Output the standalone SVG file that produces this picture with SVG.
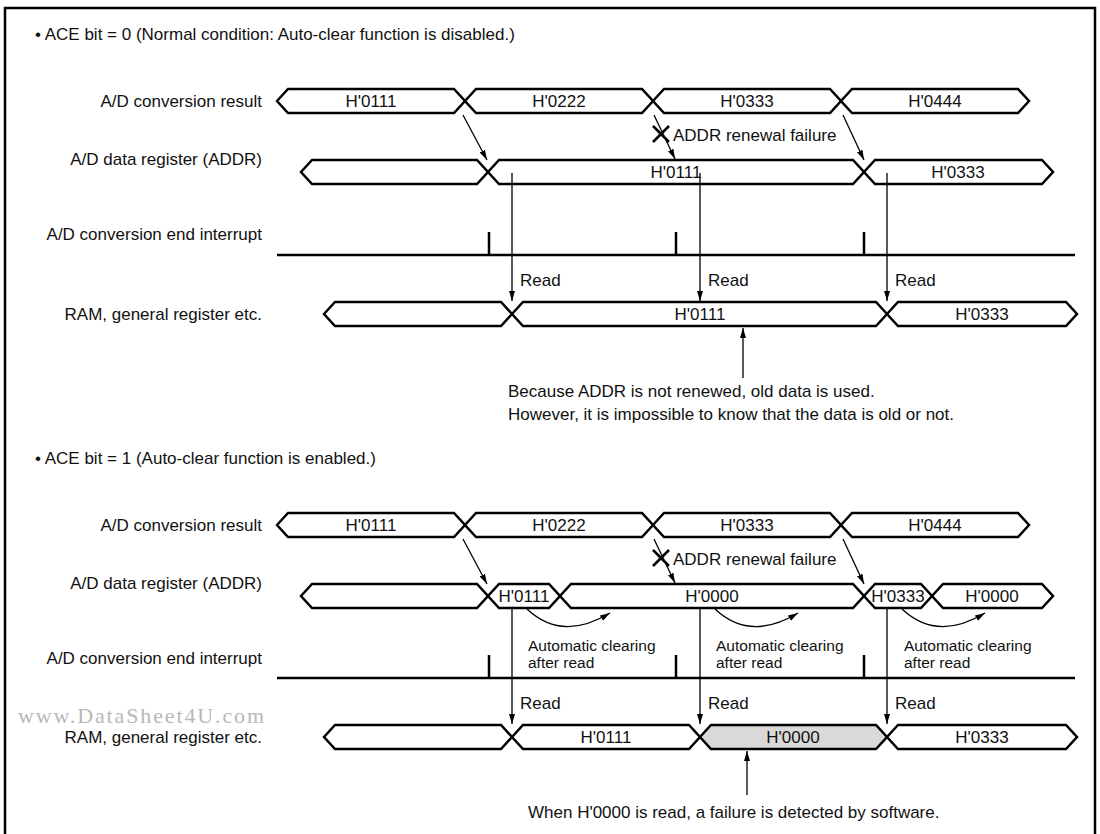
<svg xmlns="http://www.w3.org/2000/svg" width="1100" height="834" viewBox="0 0 1100 834">
<defs>
<marker id="ah" markerUnits="userSpaceOnUse" markerWidth="12" markerHeight="8" refX="10" refY="4" orient="auto">
<path d="M0,1 L10,4 L0,7 Z" fill="#000"/>
</marker>
<style>
text{font-family:"Liberation Sans",Arial,Helvetica,sans-serif;font-size:17px;fill:#111}
.lbl{text-anchor:end}
.mid{text-anchor:middle}
.sm{font-size:15.5px}
.bus{fill:#fff;stroke:#000;stroke-width:2.5;stroke-linejoin:miter}
.gray{fill:#d9d9d9}
.ln{fill:none;stroke:#000;stroke-width:2.5}
.arr{fill:none;stroke:#000;stroke-width:1.3;marker-end:url(#ah)}
.wm{font-family:"Liberation Serif","Times New Roman",serif;font-size:22px;fill:#b8b8b8}
</style>
</defs>
<rect x="5" y="8" width="1090" height="900" fill="#fff" stroke="#000" stroke-width="2.5"/>

<text x="35" y="40">• ACE bit = 0 (Normal condition: Auto-clear function is disabled.)</text>
<text x="35" y="464">• ACE bit = 1 (Auto-clear function is enabled.)</text>

<g id="labels-top">
<text class="lbl" x="262" y="107">A/D conversion result</text>
<text class="lbl" x="262" y="165">A/D data register (ADDR)</text>
<text class="lbl" x="262" y="240">A/D conversion end interrupt</text>
<text class="lbl" x="262" y="320">RAM, general register etc.</text>
</g>
<g id="labels-bottom">
<text class="lbl" x="262" y="531">A/D conversion result</text>
<text class="lbl" x="262" y="589">A/D data register (ADDR)</text>
<text class="lbl" x="262" y="664">A/D conversion end interrupt</text>
<text class="lbl" x="262" y="743">RAM, general register etc.</text>
</g>
<text class="wm" x="18" y="723" textLength="246" lengthAdjust="spacing">www.DataSheet4U.com</text>

<g id="top-result">
<polygon class="bus" points="277,101 288,89 454,89 465,101 454,113 288,113"/>
<polygon class="bus" points="465,101 476,89 642,89 653,101 642,113 476,113"/>
<polygon class="bus" points="653,101 664,89 830,89 841,101 830,113 664,113"/>
<polygon class="bus" points="841,101 852,89 1018,89 1029,101 1018,113 852,113"/>
<text class="mid" x="371" y="107">H'0111</text>
<text class="mid" x="559" y="107">H'0222</text>
<text class="mid" x="747" y="107">H'0333</text>
<text class="mid" x="935" y="107">H'0444</text>
</g>
<g id="top-addr">
<polygon class="bus" points="301,172 312,160 477,160 488,172 477,184 312,184"/>
<polygon class="bus" points="488,172 499,160 853,160 864,172 853,184 499,184"/>
<polygon class="bus" points="864,172 875,160 1042,160 1053,172 1042,184 875,184"/>
<text class="mid" x="676" y="178">H'0111</text>
<text class="mid" x="958" y="178">H'0333</text>
</g>
<g id="top-interrupt">
<path class="ln" d="M277,255 H1075 M489,255 V232 M676,255 V232 M864,255 V232"/>
</g>
<g id="top-ram">
<polygon class="bus" points="324,314 335,302 501,302 512,314 501,326 335,326"/>
<polygon class="bus" points="512,314 523,302 876,302 887,314 876,326 523,326"/>
<polygon class="bus" points="887,314 898,302 1066,302 1077,314 1066,326 898,326"/>
<text class="mid" x="700" y="320">H'0111</text>
<text class="mid" x="982" y="320">H'0333</text>
</g>
<g id="top-notes">
<path class="ln" d="M653,126 L669,142 M669,126 L653,142"/>
<text x="673" y="141">ADDR renewal failure</text>
<text x="520" y="286">Read</text>
<text x="708" y="286">Read</text>
<text x="895" y="286">Read</text>
<text x="508" y="397">Because ADDR is not renewed, old data is used.</text>
<text x="508" y="420">However, it is impossible to know that the data is old or not.</text>
</g>

<g id="bottom-result">
<polygon class="bus" points="277,525 288,513 454,513 465,525 454,537 288,537"/>
<polygon class="bus" points="465,525 476,513 642,513 653,525 642,537 476,537"/>
<polygon class="bus" points="653,525 664,513 830,513 841,525 830,537 664,537"/>
<polygon class="bus" points="841,525 852,513 1018,513 1029,525 1018,537 852,537"/>
<text class="mid" x="371" y="531">H'0111</text>
<text class="mid" x="559" y="531">H'0222</text>
<text class="mid" x="747" y="531">H'0333</text>
<text class="mid" x="935" y="531">H'0444</text>
</g>
<g id="bottom-addr">
<polygon class="bus" points="301,596 312,584 477,584 488,596 477,608 312,608"/>
<polygon class="bus" points="488,596 499,584 549,584 560,596 549,608 499,608"/>
<polygon class="bus" points="560,596 571,584 853,584 864,596 853,608 571,608"/>
<polygon class="bus" points="864,596 875,584 921,584 932,596 921,608 875,608"/>
<polygon class="bus" points="932,596 943,584 1042,584 1053,596 1042,608 943,608"/>
<text class="mid" x="524" y="602">H'0111</text>
<text class="mid" x="712" y="602">H'0000</text>
<text class="mid" x="898" y="602">H'0333</text>
<text class="mid" x="992" y="602">H'0000</text>
</g>
<g id="bottom-interrupt">
<path class="ln" d="M277,678 H1075 M489,678 V655 M676,678 V655 M864,678 V655"/>
</g>
<g id="bottom-ram">
<polygon class="bus" points="324,737 335,725 501,725 512,737 501,749 335,749"/>
<polygon class="bus" points="512,737 523,725 689,725 700,737 689,749 523,749"/>
<polygon class="bus gray" points="700,737 711,725 876,725 887,737 876,749 711,749"/>
<polygon class="bus" points="887,737 898,725 1066,725 1077,737 1066,749 898,749"/>
<text class="mid" x="606" y="743">H'0111</text>
<text class="mid" x="793" y="743">H'0000</text>
<text class="mid" x="982" y="743">H'0333</text>
</g>
<g id="bottom-notes">
<path class="ln" d="M653,550 L669,566 M669,550 L653,566"/>
<text x="673" y="565">ADDR renewal failure</text>
<text class="sm" x="528" y="651">Automatic clearing</text>
<text class="sm" x="528" y="668">after read</text>
<text class="sm" x="716" y="651">Automatic clearing</text>
<text class="sm" x="716" y="668">after read</text>
<text class="sm" x="904" y="651">Automatic clearing</text>
<text class="sm" x="904" y="668">after read</text>
<text x="520" y="709">Read</text>
<text x="708" y="709">Read</text>
<text x="895" y="709">Read</text>
<text x="528" y="818">When H'0000 is read, a failure is detected by software.</text>
</g>

<g id="connectors">
<path class="arr" d="M463,115 L487,160"/>
<path class="arr" d="M654,115 L675,159"/>
<path class="arr" d="M843,115 L864,160"/>
<path class="arr" d="M512,173 V301"/>
<path class="arr" d="M700,173 V301"/>
<path class="arr" d="M887,173 V301"/>
<path class="arr" d="M743,378 V328"/>
<path class="arr" d="M463,539 L487,584"/>
<path class="arr" d="M654,539 L675,583"/>
<path class="arr" d="M843,539 L864,584"/>
<path class="arr" d="M512,608 V724"/>
<path class="arr" d="M700,608 V724"/>
<path class="arr" d="M887,608 V724"/>
<path class="arr" d="M747,795 V751"/>
<path class="arr" d="M527,609 Q562,642 610,613"/>
<path class="arr" d="M715,609 Q750,642 798,613"/>
<path class="arr" d="M902,609 Q937,642 985,613"/>
</g>
</svg>
